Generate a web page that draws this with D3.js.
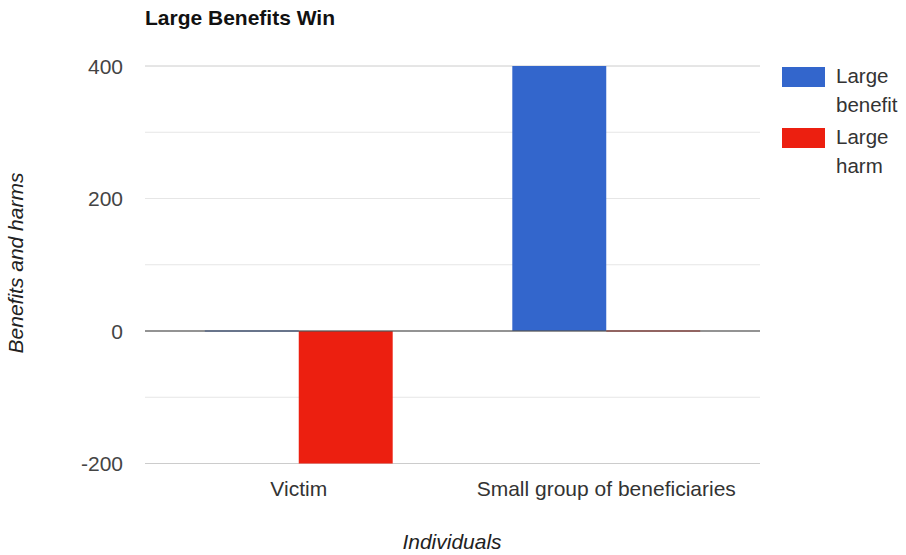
<!DOCTYPE html>
<html>
<head>
<meta charset="utf-8">
<script src="https://cdn.jsdelivr.net/npm/d3@7"></script>
<style>
  body { margin: 0; background: #fff; }
  text { font-family: "Liberation Sans", Arial, sans-serif; }
</style>
</head>
<body>
<svg id="chart" width="906" height="555"></svg>
<script>
const categories = ['Victim', 'Small group of beneficiaries'];
const seriesNames = ['Large benefit', 'Large harm'];
const benefitValues = [0, 400];
const harmValues = [-200, 0];
const yTicks = [-200, 0, 200, 400];
const gridTicks = [-200, -100, 0, 100, 200, 300, 400];
const colors = ['#3366cc', '#ec1f10'];

const svg = d3.select('#chart');

const plotLeft = 145;
const plotRight = 760;
const plotTop = 66;
const plotBottom = 463.5;

const x = d3.scaleBand()
  .domain(categories)
  .range([plotLeft, plotRight])
  .paddingInner(0.389)
  .paddingOuter(0.1945);

const x1 = d3.scaleBand()
  .domain(seriesNames)
  .range([0, x.bandwidth()]);

const y = d3.scaleLinear()
  .domain([-200, 400])
  .range([plotBottom, plotTop]);

// gridlines
svg.append('g')
  .selectAll('line')
  .data(gridTicks)
  .enter()
  .append('line')
  .attr('x1', plotLeft)
  .attr('x2', plotRight)
  .attr('y1', d => y(d))
  .attr('y2', d => y(d))
  .style('stroke', d => (d === 400 || d === -200) ? '#cccccc' : '#e6e6e6')
  .style('stroke-width', 1);

// y tick labels
svg.append('g')
  .selectAll('text')
  .data(yTicks)
  .enter()
  .append('text')
  .attr('x', 123)
  .attr('y', d => y(d) + 7.5)
  .attr('text-anchor', 'end')
  .style('font-size', '21px')
  .style('fill', '#444')
  .text(d => d);

// bars
const rows = categories.map((c, i) => ({
  category: c,
  values: [benefitValues[i], harmValues[i]]
}));

const groups = svg.append('g')
  .selectAll('g')
  .data(rows)
  .enter()
  .append('g')
  .attr('transform', d => `translate(${x(d.category)},0)`);

groups.selectAll('rect')
  .data(d => d.values.map((v, j) => ({ key: seriesNames[j], value: v, color: colors[j] })))
  .enter()
  .append('rect')
  .attr('x', d => x1(d.key))
  .attr('width', x1.bandwidth())
  .attr('y', d => Math.min(y(d.value), y(0)) - (d.value === 0 ? 1 : 0))
  .attr('height', d => Math.max(2, Math.abs(y(d.value) - y(0))))
  .style('fill', d => d.color)
  .style('opacity', d => d.value === 0 ? 0.55 : 1);

// zero baseline
svg.append('line')
  .attr('x1', plotLeft)
  .attr('x2', plotRight)
  .attr('y1', y(0))
  .attr('y2', y(0))
  .style('stroke', '#555')
  .style('stroke-width', 1.5)
  .style('opacity', 0.8);

// category labels
svg.append('g')
  .selectAll('text')
  .data(categories)
  .enter()
  .append('text')
  .attr('x', d => x(d) + x.bandwidth() / 2)
  .attr('y', 496)
  .attr('text-anchor', 'middle')
  .style('font-size', '21px')
  .style('fill', '#333')
  .text(d => d);

// title
svg.append('text')
  .attr('x', 145)
  .attr('y', 25)
  .style('font-size', '21px')
  .style('font-weight', 'bold')
  .style('fill', '#111')
  .text('Large Benefits Win');

// axis titles
svg.append('text')
  .attr('x', 452)
  .attr('y', 549)
  .attr('text-anchor', 'middle')
  .style('font-size', '21px')
  .style('font-style', 'italic')
  .style('fill', '#222')
  .text('Individuals');

svg.append('text')
  .attr('transform', 'translate(23,263) rotate(-90)')
  .attr('text-anchor', 'middle')
  .style('font-size', '21px')
  .style('font-style', 'italic')
  .style('fill', '#222')
  .text('Benefits and harms');

// legend
const legendLines = [['Large', 'benefit'], ['Large', 'harm']];
const legend = svg.append('g')
  .selectAll('g')
  .data(seriesNames)
  .enter()
  .append('g')
  .attr('transform', (d, i) => `translate(782,${67 + i * 61})`);

legend.append('rect')
  .attr('width', 43)
  .attr('height', 20)
  .style('fill', (d, i) => colors[i]);

legend.append('text')
  .attr('y', 16)
  .style('font-size', '20.5px')
  .style('fill', '#333')
  .selectAll('tspan')
  .data((d, i) => legendLines[i])
  .enter()
  .append('tspan')
  .attr('x', 54)
  .attr('dy', (d, k) => k === 0 ? 0 : 29)
  .text(d => d);
</script>
</body>
</html>
